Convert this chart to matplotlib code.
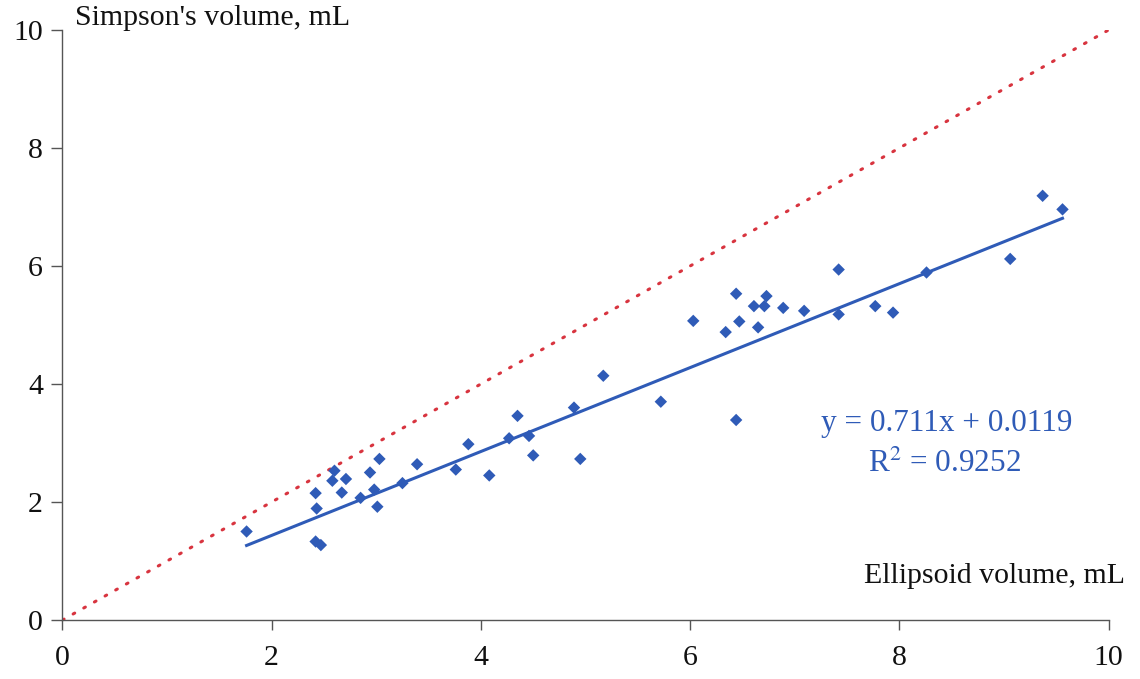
import matplotlib
matplotlib.use("Agg")
import matplotlib.pyplot as plt
import numpy as np

# Paired volume measurements (mL)
ellipsoid = [1.76, 2.42, 2.43, 2.42, 2.47, 2.60, 2.58, 2.71, 2.67, 2.85,
             2.94, 3.03, 2.98, 3.01, 3.25, 3.39, 3.76, 4.08, 3.88, 4.27,
             4.35, 4.46, 4.50, 4.89, 4.95, 5.17, 5.72, 6.03, 6.34, 6.44,
             6.47, 6.44, 6.61, 6.71, 6.73, 6.65, 6.89, 7.09, 7.42, 7.42,
             7.77, 7.94, 8.26, 9.06, 9.37, 9.56]
simpson = [1.50, 2.15, 1.89, 1.33, 1.27, 2.53, 2.36, 2.39, 2.16, 2.07,
           2.50, 2.73, 2.21, 1.92, 2.32, 2.64, 2.55, 2.45, 2.98, 3.08,
           3.46, 3.12, 2.79, 3.60, 2.73, 4.14, 3.70, 5.07, 4.88, 5.53,
           5.06, 3.39, 5.32, 5.32, 5.49, 4.96, 5.29, 5.24, 5.18, 5.94,
           5.32, 5.21, 5.89, 6.12, 7.19, 6.96]

slope = 0.711
intercept = 0.0119
r_squared = 0.9252

x_ticks = [0, 2, 4, 6, 8, 10]
y_ticks = [0, 2, 4, 6, 8, 10]

plt.rcParams['font.family'] = ['Liberation Serif', 'DejaVu Serif']
plt.rcParams['mathtext.fontset'] = 'stix'

blue = '#2f5bb7'
red = '#d8343f'
axis_col = '#555555'
fs = 21.5

fig = plt.figure(figsize=(11.4, 6.79), dpi=100)
ax = fig.add_axes([0.0548, 0.0869, 0.9176, 0.8689])
ax.set_xlim(0, 10)
ax.set_ylim(0, 10)

# Line of identity
ax.plot([0, 10], [0, 10], color=red, lw=2.2, linestyle=(0, (0.6, 3.4)),
        dash_capstyle='round', zorder=2)

# Linear fit across the measured range
xs = np.array([min(ellipsoid), max(ellipsoid)])
ax.plot(xs, slope * xs + intercept, color=blue, lw=2.2, zorder=3)

ax.scatter(ellipsoid, simpson, marker='D', s=40, color=blue,
           edgecolors='none', zorder=4)

for side in ('top', 'right'):
    ax.spines[side].set_visible(False)
for side in ('left', 'bottom'):
    ax.spines[side].set_color(axis_col)
    ax.spines[side].set_linewidth(1.0)

ax.set_xticks(x_ticks)
ax.set_yticks(y_ticks)
ax.set_xticklabels([str(t) for t in x_ticks])
ax.set_yticklabels([str(t) for t in y_ticks])
ax.tick_params(axis='x', direction='out', length=7, width=1, color=axis_col,
               labelsize=fs, pad=11, labelcolor='#111111')
ax.tick_params(axis='y', direction='out', length=8, width=1, color=axis_col,
               labelsize=fs, pad=6, labelcolor='#111111')

ax.text(0.012, 1.02, "Simpson's volume, mL", transform=ax.transAxes,
        fontsize=fs, ha='left', va='center', color='#111111')
ax.text(1.016, 0.075, "Ellipsoid volume, mL", transform=ax.transAxes,
        fontsize=fs, ha='right', va='center', color='#111111')

ax.text(8.45, 3.33, f"y = {slope}x + {intercept}", fontsize=fs + 1,
        ha='center', va='center', color=blue)
ax.text(8.43, 2.64, f"R$^{{2}}$ = {r_squared}", fontsize=fs + 1,
        ha='center', va='center', color=blue)

fig.savefig('out.png', dpi=100, facecolor='white')
